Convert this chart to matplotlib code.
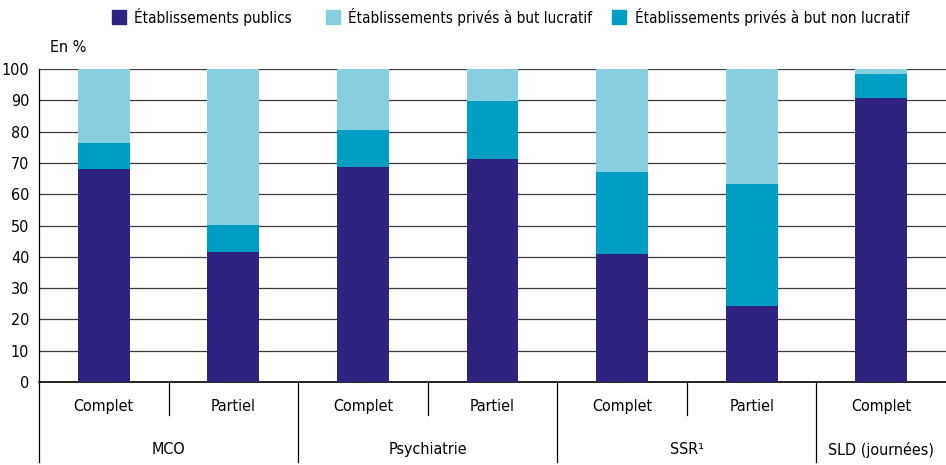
import matplotlib
matplotlib.use("Agg")
import matplotlib.pyplot as plt
import numpy as np

plt.rcParams['font.family'] = ['DejaVu Sans']
plt.rcParams['font.stretch'] = 'condensed'

# Data (in %)
sub_labels = ["Complet", "Partiel", "Complet", "Partiel", "Complet", "Partiel", "Complet"]
groups = ["MCO", "Psychiatrie", "SSR¹", "SLD (journées)"]
group_sizes = [2, 2, 2, 1]
publics = [68.1, 41.6, 68.8, 71.1, 40.8, 24.3, 90.6]
non_lucratif = [8.4, 8.6, 11.7, 18.8, 26.3, 39.0, 7.7]
lucratif = [23.5, 49.8, 19.5, 10.1, 32.9, 36.7, 1.7]

c_pub = "#2e2480"
c_luc = "#87cee1"
c_nl = "#009ec3"

fig = plt.figure(figsize=(9.46, 4.65), dpi=100)
ax = fig.add_axes([0.0412, 0.1785, 0.9588, 0.6731])

x = np.arange(len(sub_labels))
w = 0.4
pub = np.array(publics)
nl = np.array(non_lucratif)
luc = np.array(lucratif)
ax.bar(x, pub, w, color=c_pub, zorder=3)
ax.bar(x, nl, w, bottom=pub, color=c_nl, zorder=3)
ax.bar(x, luc, w, bottom=pub + nl, color=c_luc, zorder=3)

ax.set_xlim(-0.5, 6.5)
ax.set_ylim(0, 100)
ax.set_yticks(range(0, 101, 10))
ax.yaxis.grid(True, color="#3a3a3a", linewidth=0.9, zorder=0)
ax.set_axisbelow(True)
ax.tick_params(axis="y", length=0, labelsize=11.5, pad=7)
ax.set_xticks([])
for s in ["top", "right"]:
    ax.spines[s].set_visible(False)
ax.spines["left"].set_linewidth(0.9)
ax.spines["bottom"].set_linewidth(1.2)

tr = ax.get_xaxis_transform()
# sub labels
for xi, lab in zip(x, sub_labels):
    ax.text(xi, -0.077, lab, transform=tr, ha="center", va="center", fontsize=11.5)
# group labels and separators
start = 0
for g, n in zip(groups, group_sizes):
    center = start + (n - 1) / 2
    ax.text(center, -0.217, g, transform=tr, ha="center", va="center", fontsize=11.5)
    ax.plot([start - 0.5, start - 0.5], [0, -0.256], transform=tr, color="black",
            linewidth=0.9, clip_on=False)
    for k in range(1, n):
        ax.plot([start + k - 0.5, start + k - 0.5], [0, -0.105], transform=tr,
                color="black", linewidth=0.9, clip_on=False)
    start += n

fig.text(50 / 946, 1 - 47 / 465, "En %", ha="left", va="center", fontsize=11.5)

# legend
items = [(112, 134, c_pub, "Établissements publics"),
         (326, 348, c_luc, "Établissements privés à but lucratif"),
         (612, 635, c_nl, "Établissements privés à but non lucratif")]
for sx, tx, col, lab in items:
    fig.patches.append(plt.Rectangle((sx / 946, 1 - 24 / 465), 14 / 946, 14 / 465,
                                     transform=fig.transFigure, color=col))
    fig.text(tx / 946, 1 - 17 / 465, lab, ha="left", va="center", fontsize=11)

fig.savefig("out.png", dpi=100)
